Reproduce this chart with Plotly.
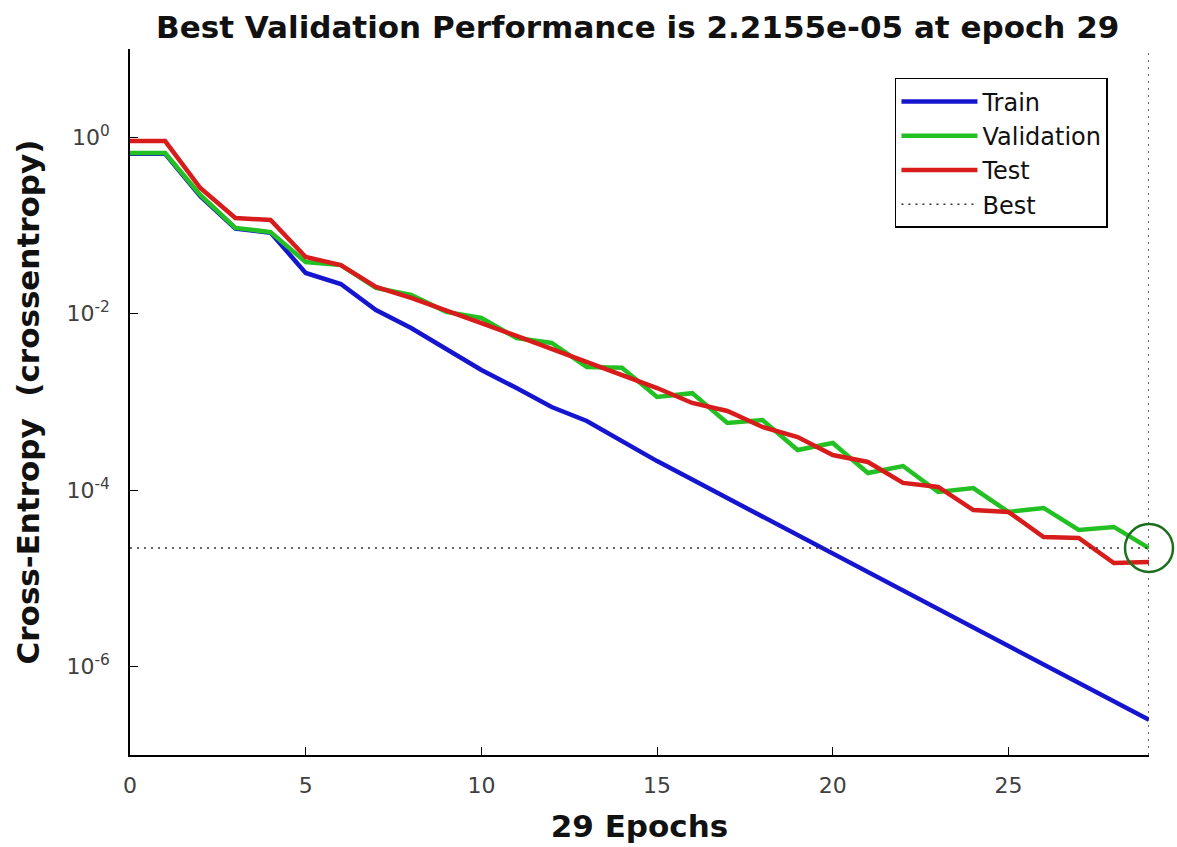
import plotly.graph_objects as go

# Performance record of a 29-epoch training run (cross-entropy per epoch)
epochs = list(range(30))

train_perf = [0.65, 0.65, 0.215, 0.092, 0.083, 0.0290, 0.0217, 0.0110, 0.0069, 0.0040,
              0.00231, 0.00144, 0.000877, 0.00061, 0.00036, 2.14e-4, 1.32e-4, 8.16e-5, 5.04e-5, 3.11e-5,
              1.92e-5, 1.18e-5, 7.31e-6, 4.51e-6, 2.78e-6, 1.72e-6, 1.06e-6, 6.55e-7, 4.04e-7, 2.50e-7]

val_perf = [0.664, 0.664, 0.222, 0.0938, 0.0843, 0.0385, 0.0356, 0.0196, 0.0163, 0.0105,
            0.00895, 0.00531, 0.00467, 0.00249, 0.00245, 0.00114, 0.00126, 0.000578, 0.000625, 0.000286,
            0.000343, 0.000157, 0.000188, 9.55e-5, 0.000106, 5.68e-5, 6.30e-5, 3.55e-5, 3.84e-5, 2.2155e-5]

test_perf = [0.906, 0.906, 0.266, 0.1216, 0.1153, 0.0440, 0.0356, 0.0201, 0.0151, 0.0110,
             0.00785, 0.00560, 0.00399, 0.00284, 0.00197, 0.00144, 0.000975, 0.000791, 0.000521, 0.000401,
             0.000251, 0.000209, 0.000121, 0.000109, 5.97e-5, 5.68e-5, 2.95e-5, 2.88e-5, 1.50e-5, 1.54e-5]

best_epoch = 29
best_perf = 2.2155e-05

x_range = [0, 29]
y_range_log = [-7, 1]
y_tick_vals = [1e-6, 1e-4, 1e-2, 1e0]
y_tick_text = ["10<sup>-6</sup>", "10<sup>-4</sup>", "10<sup>-2</sup>", "10<sup>0</sup>"]
x_tick_vals = [0, 5, 10, 15, 20, 25]

FONT = "DejaVu Sans, Liberation Sans, Arial, sans-serif"

fig = go.Figure()

fig.add_trace(go.Scatter(x=epochs, y=train_perf, mode="lines", name="Train",
                         line=dict(color="#1515d0", width=4.5)))
fig.add_trace(go.Scatter(x=epochs, y=val_perf, mode="lines", name="Validation",
                         line=dict(color="#22c022", width=4.5)))
fig.add_trace(go.Scatter(x=epochs, y=test_perf, mode="lines", name="Test",
                         line=dict(color="#d81c1c", width=4.5)))

# dotted guide lines through the best validation point
fig.add_trace(go.Scatter(
    x=[x_range[0], best_epoch, None, best_epoch, best_epoch],
    y=[best_perf, best_perf, None, 10 ** y_range_log[0], 10 ** y_range_log[1]],
    mode="lines", name="Best",
    line=dict(color="#333333", width=1.5, dash="2px,5px")))

# circle marking the best validation epoch
fig.add_trace(go.Scatter(
    x=[best_epoch], y=[best_perf], mode="markers", showlegend=False,
    cliponaxis=False,
    marker=dict(symbol="circle-open", size=48, color="#1d6f1d",
                line=dict(width=2.5, color="#1d6f1d"))))

fig.update_layout(
    width=1177, height=847,
    paper_bgcolor="white", plot_bgcolor="white",
    margin=dict(l=130, r=28, t=49, b=92, autoexpand=False),
    font=dict(family=FONT, color="#222222"),
    title=dict(text="<b>Best Validation Performance is 2.2155e-05 at epoch 29</b>",
               x=0.5418, xanchor="center", y=0.968, yanchor="middle",
               font=dict(size=31, color="#111111", family=FONT)),
    legend=dict(x=0.7507, y=0.959, xanchor="left", yanchor="top",
                bgcolor="white", bordercolor="black", borderwidth=1.5,
                font=dict(size=24, color="#111111", family=FONT),
                tracegroupgap=0, itemwidth=76),
    showlegend=True,
)

fig.update_xaxes(
    range=x_range, tickvals=x_tick_vals, ticks="inside", ticklen=8, tickwidth=1.2,
    tickcolor="black", showline=True, linecolor="black", linewidth=1.5,
    showgrid=False, zeroline=False, mirror=False, automargin=False,
    tickfont=dict(size=22, color="#404040"), ticklabelstandoff=10,
    title=dict(text="<b>29 Epochs</b>", font=dict(size=31, color="#111111"), standoff=18),
)

fig.update_yaxes(
    type="log", range=y_range_log, tickvals=y_tick_vals, ticktext=y_tick_text,
    ticks="inside", ticklen=8, tickwidth=1.2, tickcolor="black",
    showline=True, linecolor="black", linewidth=1.5,
    showgrid=False, zeroline=False, mirror=False, automargin=False,
    tickfont=dict(size=22, color="#404040"), ticklabelstandoff=14,
    title=dict(text="<b>Cross-Entropy  (crossentropy)</b>", font=dict(size=31, color="#111111"), standoff=18),
)

fig.write_html("out.html")
